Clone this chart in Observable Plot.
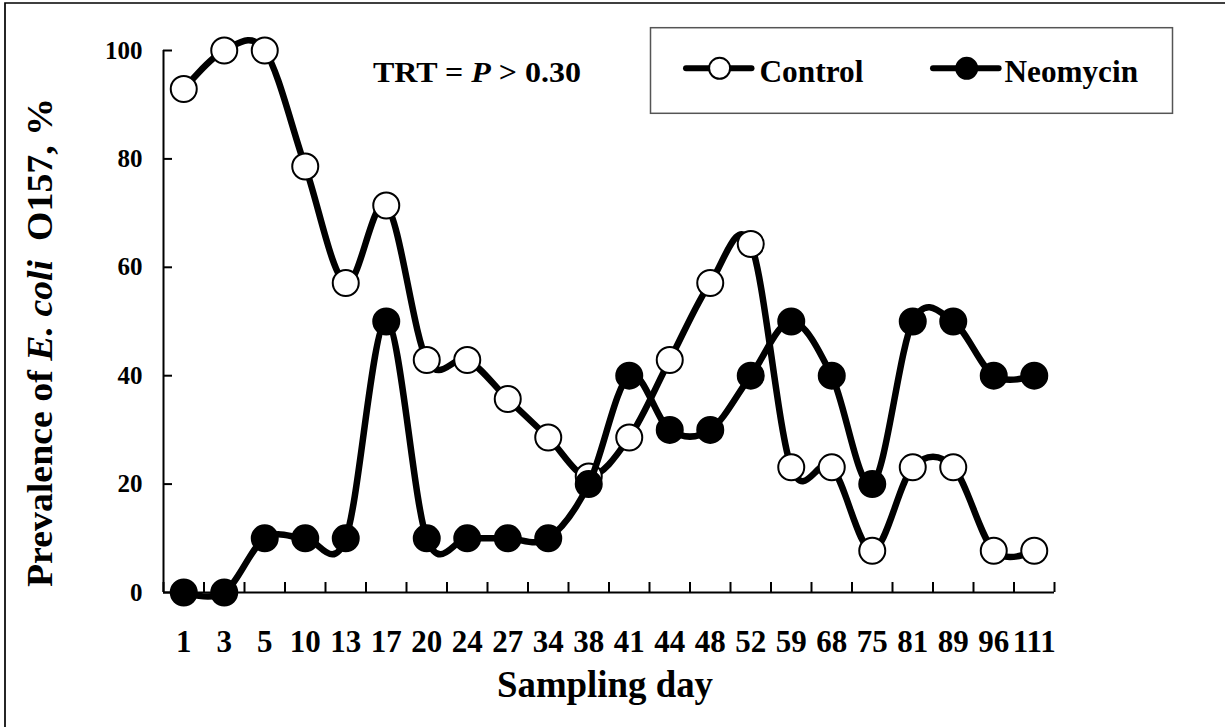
<!DOCTYPE html>
<html><head><meta charset="utf-8">
<script src="https://cdn.jsdelivr.net/npm/d3@7"></script>
<script src="https://cdn.jsdelivr.net/npm/@observablehq/plot@0.6"></script>
<style>body{margin:0;background:#fff}</style>
</head><body><div id="chart"></div>
<script>
const days = ["1","3","5","10","13","17","20","24","27","34","38","41","44","48","52","59","68","75","81","89","96","111"];
const control = [92.9,100,100,78.6,57.1,71.4,42.9,42.9,35.7,28.6,21.4,28.6,42.9,57.1,64.3,23.1,23.1,7.7,23.1,23.1,7.7,7.7];
const neomycin = [0,0,10,10,10,50,10,10,10,10,20,40,30,30,40,50,40,20,50,50,40,40];
const yTicks = [0,20,40,60,80,100];
const seriesNames = ["Control","Neomycin"];

const FONT = "'Liberation Serif', 'Times New Roman', serif";
const ctrlData = days.map((d,i)=>({i, day:d, v: control[i]}));
const neoData = days.map((d,i)=>({i, day:d, v: neomycin[i]}));
const boundaries = d3.range(days.length+1).map(i=>i-0.5);

const plot = Plot.plot({
  width: 1225, height: 727,
  marginLeft: 163, marginRight: 171, marginTop: 50, marginBottom: 135,
  x: {type:"linear", domain:[-0.5, days.length-0.5]},
  y: {domain:[0,100]},
  style: {fontFamily: FONT, fontWeight: "bold", color: "#000", background: "#fff", overflow: "visible"},
  marks: [
    Plot.axisX(boundaries, {tickSize: -10, tickFormat: ()=>"", strokeWidth: 2, label: null}),
    Plot.axisX(d3.range(days.length), {tickSize: 0, tickPadding: 37, tickFormat: i=>days[i], fontSize: 31, label: null}),
    Plot.axisY(yTicks, {tickSize: -9, tickFormat: ()=>"", strokeWidth: 2, label: null}),
    Plot.axisY(yTicks, {tickSize: 0, tickPadding: 21, fontSize: 25, label: null}),
    Plot.ruleY([0], {strokeWidth: 2}),
    Plot.ruleX([-0.5], {strokeWidth: 2}),
    Plot.line(ctrlData, {x:"i", y:"v", curve:"cardinal", strokeWidth:6.5, stroke:"black"}),
    Plot.dot(ctrlData, {x:"i", y:"v", r:13, fill:"white", stroke:"black", strokeWidth:2}),
    Plot.line(neoData, {x:"i", y:"v", curve:"cardinal", strokeWidth:6.5, stroke:"black"}),
    Plot.dot(neoData, {x:"i", y:"v", r:13, fill:"black", stroke:"black", strokeWidth:2})
  ]
});
document.getElementById("chart").appendChild(plot);

const svg = d3.select(plot);
svg.selectAll('g[aria-label="x-axis tick label"]').attr("font-size", 31).attr("font-family", FONT).attr("font-weight","bold");
svg.selectAll('g[aria-label="y-axis tick label"]').attr("font-size", 25).attr("font-family", FONT).attr("font-weight","bold");

const ann = svg.append("g").attr("font-family", FONT).attr("font-weight","bold").attr("fill","black").attr("text-anchor","start");
// outer frame (left and top edges visible)
ann.append("path").attr("d","M5,727V3H1225").attr("fill","none").attr("stroke","black").attr("stroke-width",1.7);

// y title
const yt = ann.append("text").attr("transform","translate(52,342.5) rotate(-90)")
  .attr("text-anchor","middle").attr("font-size",36)
  .attr("textLength",489).attr("lengthAdjust","spacingAndGlyphs").style("white-space","pre");
yt.append("tspan").text("Prevalence of ");
yt.append("tspan").attr("font-style","italic").text("E. coli");
yt.append("tspan").text("  O157, %");

// x title
ann.append("text").attr("x",605).attr("y",697).attr("text-anchor","middle").attr("font-size",37)
  .attr("textLength",216).attr("lengthAdjust","spacingAndGlyphs").text("Sampling day");

// TRT annotation
const trt = ann.append("text").attr("x",373).attr("y",82).attr("font-size",30).attr("text-anchor","start")
  .attr("textLength",208).attr("lengthAdjust","spacingAndGlyphs").style("white-space","pre");
trt.append("tspan").text("TRT = ");
trt.append("tspan").attr("font-style","italic").text("P");
trt.append("tspan").text(" > 0.30");

// legend
const lg = ann.append("g");
lg.append("rect").attr("x",650.5).attr("y",27.7).attr("width",522).attr("height",85.6)
  .attr("fill","white").attr("stroke","#555").attr("stroke-width",1.5);
const items = [
  {name: seriesNames[0], x0: 686, x1: 751.5, cx: 719.6, tx: 759.4, tl: 104, fill: "white"},
  {name: seriesNames[1], x0: 933, x1: 998.6, cx: 966.7, tx: 1004.5, tl: 133.5, fill: "black"}
];
items.forEach(it => {
  lg.append("line").attr("x1",it.x0).attr("x2",it.x1).attr("y1",68.3).attr("y2",68.3)
    .attr("stroke","black").attr("stroke-width",6).attr("stroke-linecap","round");
  lg.append("circle").attr("cx",it.cx).attr("cy",68.3).attr("r",10.5).attr("fill",it.fill)
    .attr("stroke","black").attr("stroke-width",2);
  lg.append("text").attr("x",it.tx).attr("y",81.7).attr("font-size",31).attr("text-anchor","start")
    .attr("textLength",it.tl).attr("lengthAdjust","spacingAndGlyphs").text(it.name);
});
</script>
</body></html>
